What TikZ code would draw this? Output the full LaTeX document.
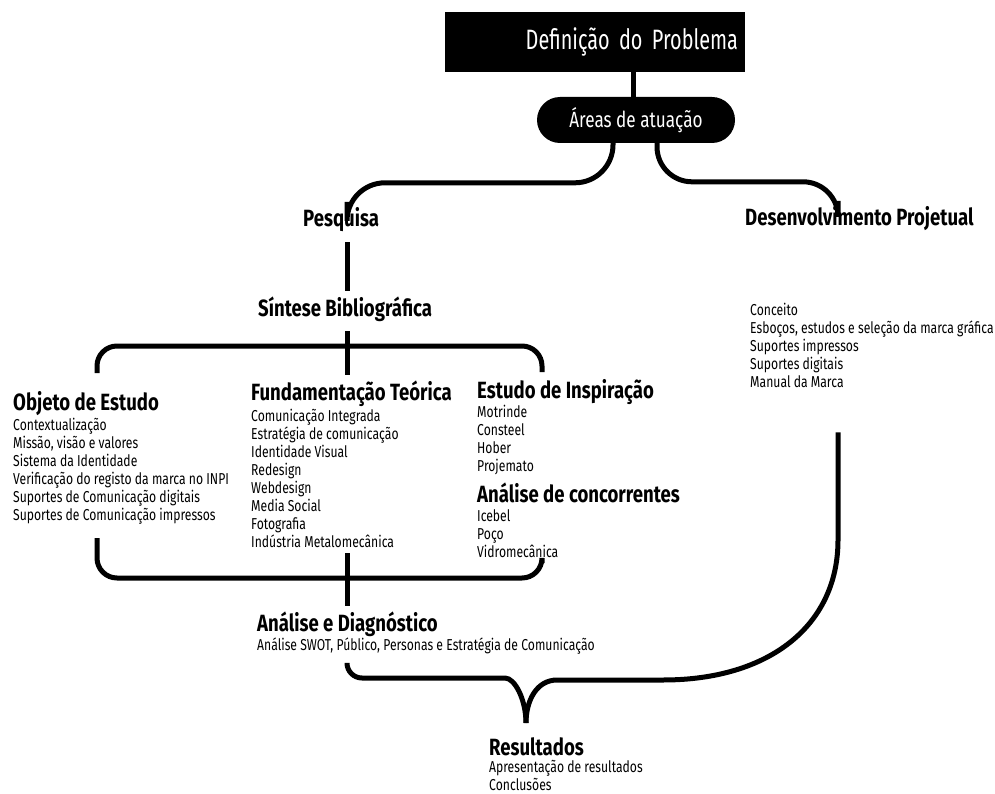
\documentclass[tikz,border=0pt]{standalone}
\usepackage{fontspec}
\setmainfont{Fira Sans}[FakeStretch=0.77]
\newfontfamily\headfont{Fira Sans}[FakeStretch=0.79]
\newfontfamily\titlefont{Fira Sans}[FakeStretch=0.71]
\newfontfamily\pillfont{Fira Sans}[FakeStretch=0.78]
\usetikzlibrary{positioning, calc}

\tikzset{
  conn/.style={line width=5pt},
  heading/.style={anchor=base west, inner sep=0pt, text height=14pt, text depth=4pt,
    minimum height=40pt, font=\headfont\bfseries\fontsize{23.5}{25}\selectfont},
  items/.style={anchor=base west, inner sep=0pt, align=left, font=\fontsize{15.8}{18}\selectfont},
  titlebox/.style={fill=black, text=white, minimum height=60pt, text width=286pt,
    align=right, inner xsep=7pt, inner ysep=0pt, font=\titlefont\fontsize{28}{30}\selectfont},
  pill/.style={fill=black, text=white, rounded corners=23pt, minimum width=198pt,
    minimum height=46pt, inner sep=0pt, font=\pillfont\fontsize{22}{24}\selectfont},
}

\begin{document}
\begin{tikzpicture}[x=1pt, y=-1pt]
  \useasboundingbox[fill=white] (0,0) rectangle (995,794);
  \coordinate (mid) at (347,0);
  \coordinate (desx) at (838,0);
  \coordinate (tip) at (526,723);

  % topo
  \node[titlebox] (problema) at (595,42) {Definição do Problema};
  \node[pill] (areas) at (636,120) {Áreas de atuação};
  \draw[conn] ([xshift=-3pt]areas.north) -- ([xshift=-3pt]areas.north |- problema.south);

  % ramos (the base of a list is its last line)
  \node[heading] (pesquisa) at (303,227) {Pesquisa};
  \node[heading] (desenv) at (745,226) {Desenvolvimento Projetual};
  \node[items] (desenvitems) at (750,387) {Conceito\\Esboços, estudos e seleção da marca gráfica\\Suportes impressos\\Suportes digitais\\Manual da Marca};
  \draw[conn] ([xshift=-23pt]areas.south) [rounded corners=38pt] |- ([yshift=19pt]pesquisa.north -| mid)
    [rounded corners=15pt] -- (pesquisa.north -| mid);
  \draw[conn] ([xshift=21pt]areas.south) [rounded corners=35pt] |- ([yshift=19pt]desenv.north -| desx)
    [rounded corners=20pt] -- (desenv.north -| desx);

  \node[heading] (sintese) at (258,316) {Síntese Bibliográfica};
  \draw[conn] (pesquisa.south -| mid) -- (sintese.north -| mid);

  % caixa da pesquisa
  \coordinate (box nw) at (97,346);
  \coordinate (box se) at (542,578);
  \draw[conn, rounded corners=20pt] ([yshift=-27pt]box nw) |- (box se |- box nw) -- ++(0,26);
  \draw[conn, rounded corners=20pt] ([yshift=40pt]box nw |- box se) |- (box se) -- ++(0,-15);

  \node[heading] (objeto) at (13,410) {Objeto de Estudo};
  \node[items] (objetoitems) at (13,520) {Contextualização\\Missão, visão e valores\\Sistema da Identidade\\Verificação do registo da marca no INPI\\Suportes de Comunicação digitais\\Suportes de Comunicação impressos};
  \node[heading] (fund) at (251,400) {Fundamentação Teórica};
  \node[items] (funditems) at (251,547) {Comunicação Integrada\\Estratégia de comunicação\\Identidade Visual\\Redesign\\Webdesign\\Media Social\\Fotografia\\Indústria Metalomecânica};
  \node[heading] (insp) at (477,398) {Estudo de Inspiração};
  \node[items] (inspitems) at (477,471) {Motrinde\\Consteel\\Hober\\Projemato};
  \node[heading] (conc) at (477,502) {Análise de concorrentes};
  \node[items] (concitems) at (477,557) {Icebel\\Poço\\Vidromecânica};
  \draw[conn] (sintese.south -| mid) -- (fund.north -| mid);

  % diagnostico
  \node[heading] (diag) at (257,631) {Análise e Diagnóstico};
  \node[items] (diagitems) at (257,650) {Análise SWOT, Público, Personas e Estratégia de Comunicação};
  \draw[conn] ([yshift=-6pt]funditems.south -| mid) -- (diag.north -| mid);

  % resultados
  \node[heading] (result) at (489,755) {Resultados};
  \node[items, font=\fontsize{15.8}{15}\selectfont] (resultitems) at (489,790) {Apresentação de resultados\\Conclusões};
  \draw[conn] ([yshift=-9pt]diagitems.south -| mid) [rounded corners=15pt] |- ([xshift=-36pt]tip |- 0,678)
    [sharp corners] .. controls (515,678) and (526,700) .. (tip);
  \draw[conn] ([yshift=-45pt]desenvitems.south -| desx) -- (838,540)
    .. controls (838,625) and (770,680) .. (663,680) -- (557,680)
    .. controls (537,680) and (526,700) .. (tip);
\end{tikzpicture}
\end{document}
